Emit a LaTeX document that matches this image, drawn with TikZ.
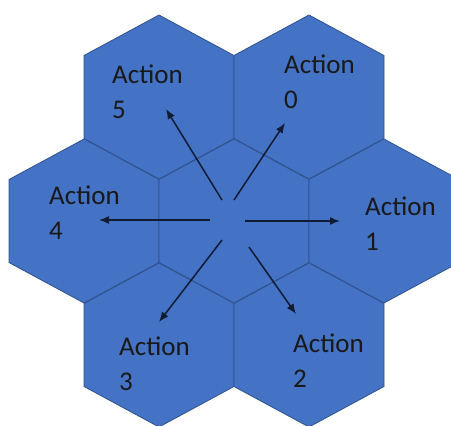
\documentclass[tikz,border=0pt]{standalone}
\usepackage{fontspec}
\setmainfont{Carlito}
\usetikzlibrary{arrows.meta}

\definecolor{hexblue}{HTML}{4472C4}
\definecolor{hexedge}{HTML}{2F528F}
\definecolor{arrownavy}{HTML}{111B33}

\begin{document}
\begin{tikzpicture}[x=1pt, y=-1pt,
    hexcell/.style={fill=hexblue, draw=hexedge, line width=0.8pt},
    act/.style={line width=1.5pt, arrownavy, -{Latex[length=10pt,width=8pt]}},
    actlabel/.style={anchor=base west, align=left, inner sep=0pt,
        font=\fontsize{27}{35}\selectfont, text=black!90}]
    \useasboundingbox (0,0) rectangle (451,426);
    \clip (0,0) rectangle (451,426);

    % honeycomb of seven cells, pointy side up
    \foreach \cx/\cy in {159/97, 309/97, 84/221, 234/221, 384/221, 159/345, 309/345}
        \draw[hexcell] (\cx,\cy-82) -- ++(75,40.5) -- ++(0,83) -- ++(-75,40.5)
            -- ++(-75,-40.5) -- ++(0,-83) -- cycle;

    % the six actions around the middle cell (placed by the number's baseline)
    \node[actlabel] (a0) at (284,108) {Action\\0};
    \node[actlabel] (a1) at (365,250) {Action\\1};
    \node[actlabel] (a2) at (293,387) {Action\\2};
    \node[actlabel] (a3) at (119,390) {Action\\3};
    \node[actlabel] (a4) at (49,239)  {Action\\4};
    \node[actlabel] (a5) at (112,118) {Action\\5};

    % arrow ends
    \coordinate (s0) at (234,200); \coordinate (t0) at (285,123);
    \coordinate (s1) at (245,221); \coordinate (t1) at (340,221);
    \coordinate (s2) at (249,247); \coordinate (t2) at (296,314);
    \coordinate (s3) at (222,240); \coordinate (t3) at (159,322);
    \coordinate (s4) at (210,220); \coordinate (t4) at (99,220);
    \coordinate (s5) at (222,200); \coordinate (t5) at (166,109);

    \foreach \i in {0,...,5}
        \draw[act] (s\i) -- (t\i);
\end{tikzpicture}
\end{document}
